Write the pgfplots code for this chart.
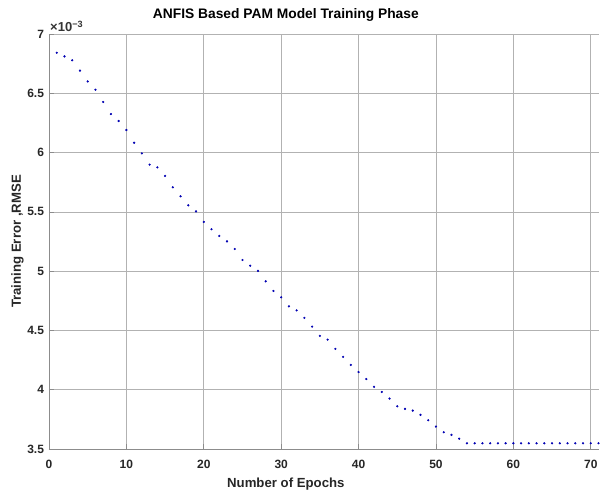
\documentclass[border=0pt]{standalone}
\usepackage{fontspec}
\setmainfont{Liberation Sans}
\usepackage{pgfplots}
\pgfplotsset{compat=1.18}

\begin{document}
\begin{tikzpicture}
\begin{axis}[
    name=ax,
    scale only axis,
    width=549.5pt,
    height=415pt,
    xmin=0, xmax=71,
    ymin=3.5, ymax=7,
    xtick={0,10,...,70},
    ytick={3.5,4,...,7},
    axis lines*=left,
    axis line style={black!45, line width=0.8pt, -},
    tick style={black!45, line width=0.6pt},
    tick align=inside,
    major tick length=5pt,
    grid=major,
    major grid style={black!30, line width=0.6pt},
    /pgf/number format/assume math mode=true,
    tick label style={font=\bfseries\fontsize{12}{14}\selectfont, text=black!85},
    xticklabel style={yshift=-8pt},
    yticklabel style={xshift=-1.5pt},
    title={ANFIS Based PAM Model Training Phase},
    title style={at={(0.431,1)}, anchor=base, yshift=9pt,
        font=\bfseries\fontsize{13.8}{16}\selectfont},
    xlabel={Number of Epochs},
    xlabel style={at={(0.431,0)}, anchor=base, yshift=-39pt,
        font=\bfseries\fontsize{13.2}{15}\selectfont, text=black!85},
    ylabel={Training Error ,RMSE},
    ylabel style={at={(0,0.5)}, anchor=base, yshift=28pt,
        font=\bfseries\fontsize{13.2}{15}\selectfont, text=black!85},
]
\addplot[only marks, mark=*, mark size=0.9pt, color=blue!70!black] coordinates {
    (1,6.842) (2,6.811) (3,6.778) (4,6.691) (5,6.600) (6,6.530) (7,6.427)
    (8,6.325) (9,6.266) (10,6.190) (11,6.083) (12,5.993) (13,5.898) (14,5.875)
    (15,5.803) (16,5.707) (17,5.631) (18,5.555) (19,5.504) (20,5.415) (21,5.353)
    (22,5.297) (23,5.251) (24,5.187) (25,5.094) (26,5.046) (27,5.002) (28,4.914)
    (29,4.833) (30,4.779) (31,4.703) (32,4.669) (33,4.606) (34,4.532) (35,4.454)
    (36,4.422) (37,4.344) (38,4.277) (39,4.209) (40,4.149) (41,4.090) (42,4.024)
    (43,3.981) (44,3.925) (45,3.860) (46,3.838) (47,3.824) (48,3.788) (49,3.742)
    (50,3.689) (51,3.641) (52,3.619) (53,3.587) (54,3.548) (55,3.548) (56,3.548)
    (57,3.548) (58,3.548) (59,3.548) (60,3.548) (61,3.548) (62,3.548) (63,3.548)
    (64,3.548) (65,3.548) (66,3.548) (67,3.548) (68,3.548) (69,3.548) (70,3.548)
    (71,3.548)
};
\end{axis}
\node[anchor=base west, inner sep=0pt, font=\bfseries\fontsize{13}{15}\selectfont, text=black!80]
    at ([xshift=1pt, yshift=2.5pt]ax.north west) {×10\textsuperscript{−3}};
\pgfresetboundingbox
\useasboundingbox ([xshift=-49pt, yshift=-44pt]ax.south west)
    rectangle ([xshift=1.5pt, yshift=34pt]ax.north east);
\end{tikzpicture}
\end{document}
